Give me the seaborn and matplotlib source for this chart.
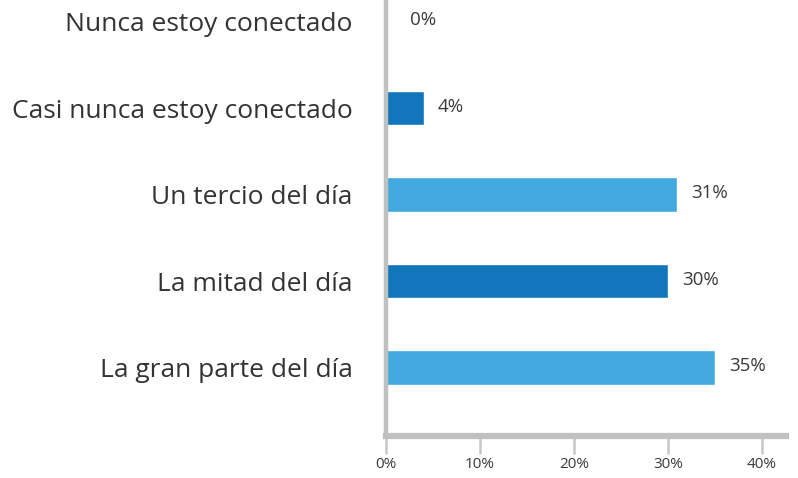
import seaborn as sns
import matplotlib.pyplot as plt
import pandas as pd

sns.set_style("white")
plt.rcParams['font.family'] = ['Open Sans', 'DejaVu Sans']

# Data
categories = [
    'Nunca estoy conectado',
    'Casi nunca estoy conectado',
    'Un tercio del día',
    'La mitad del día',
    'La gran parte del día',
]
values = [0, 4, 31, 30, 35]
bar_colors = ['#41a9df', '#1176bc', '#41a9df', '#1176bc', '#41a9df']
x_ticks = [0, 10, 20, 30, 40]

df = pd.DataFrame({'Categoria': categories, 'Porcentaje': values})

fig = plt.figure(figsize=(7.98, 4.78), dpi=100)
ax = fig.add_axes([0.4837, 0.088, 0.5013, 0.912])

sns.barplot(
    data=df, x='Porcentaje', y='Categoria', hue='Categoria',
    palette=bar_colors, legend=False, width=0.40, ax=ax,
    saturation=1,
)

# Value labels at the end of each bar
for i, v in enumerate(values):
    ax.annotate(f'{v}%', xy=(v, i), xytext=(10 if v else 17, 1),
                textcoords='offset points', va='center', ha='left',
                fontsize=13.5, color='#3a3a3a')

ax.set_xlim(0, 42.55)
ax.set_ylim(4.79, -0.25)
ax.set_xticks(x_ticks)
ax.set_xticklabels([f'{t}%' for t in x_ticks], fontsize=11, color='#3a3a3a')
ax.set_xlabel('')
ax.set_ylabel('')

ax.tick_params(axis='y', left=False, length=0, pad=24, labelsize=19,
               labelcolor='#333333')
ax.tick_params(axis='x', bottom=True, length=13, width=1.8, color='#c8c8c8',
               pad=2, direction='out')

for side in ['top', 'right']:
    ax.spines[side].set_visible(False)
ax.spines['left'].set_color('#c0c0c0')
ax.spines['left'].set_linewidth(3.2)
ax.spines['bottom'].set_color('#c0c0c0')
ax.spines['bottom'].set_linewidth(4.5)

fig.savefig('out.png', dpi=100)
